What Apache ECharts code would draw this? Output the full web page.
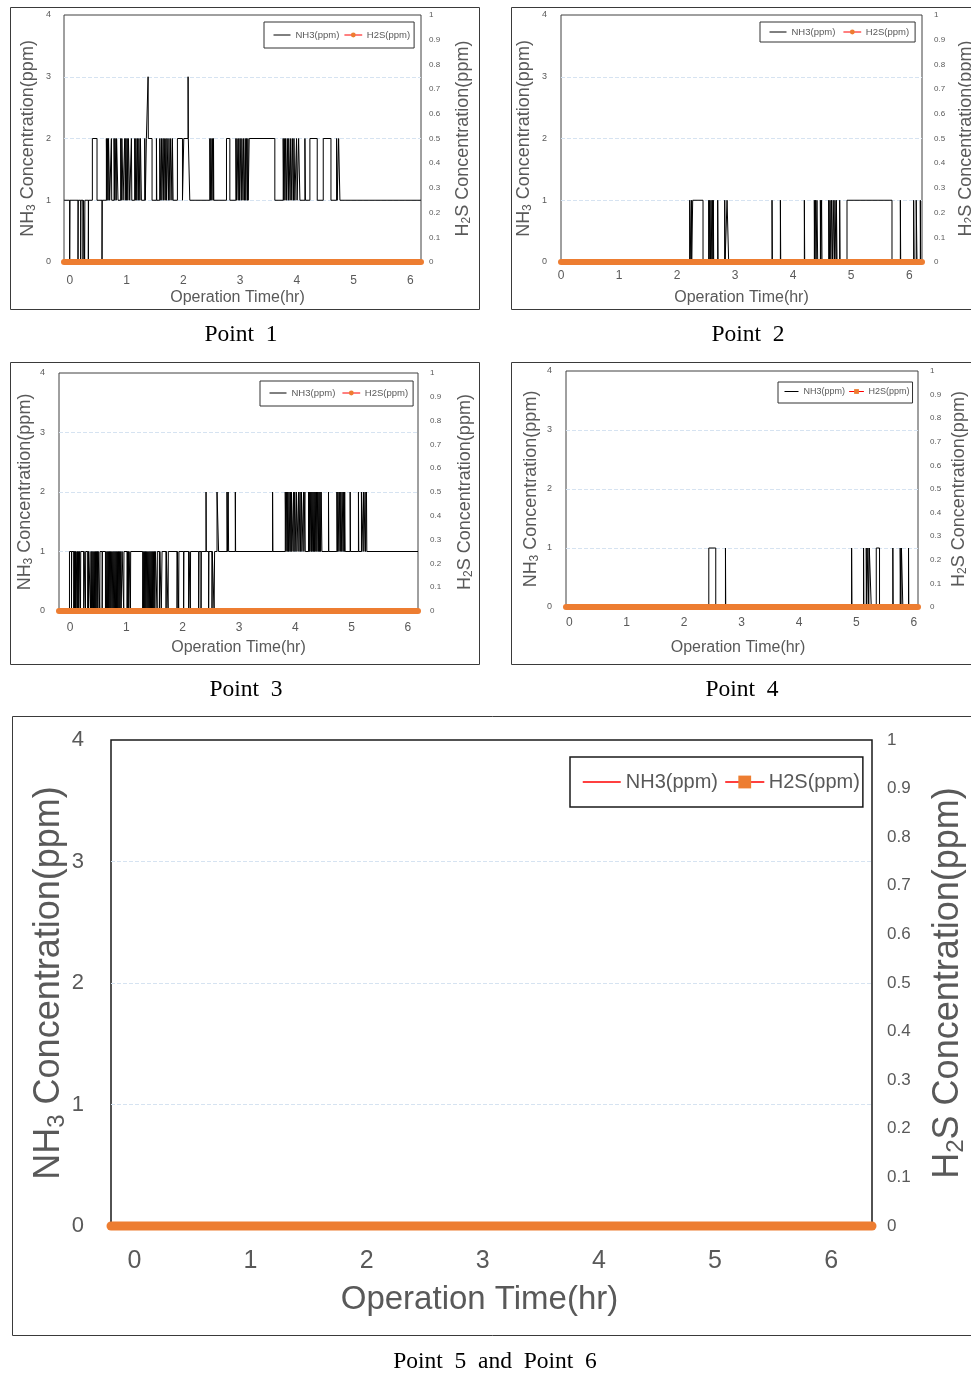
<!DOCTYPE html>
<html><head><meta charset="utf-8">
<script src="https://cdn.jsdelivr.net/npm/echarts@6/dist/echarts.min.js"></script>
<style>html,body{margin:0;padding:0;background:#fff}#c{width:971px;height:1374px}</style>
</head><body><div id="c"></div>
<script>
// ---------------- DATA ----------------
const xTicks = [0, 1, 2, 3, 4, 5, 6];
const captions = ['Point  1', 'Point  2', 'Point  3', 'Point  4', 'Point  5  and  Point  6'];
const seriesNames = ['NH3(ppm)', 'H2S(ppm)'];

// NH3 step readings [hour, ppm]
const p1NH3 = [[-0.105,1],[-0.005,0],[0,1],[0.142,0],[0.146,1],[0.189,0],[0.193,1],[0.23,0],[0.234,1],[0.259,0],[0.263,1],[0.324,0],[0.328,1],[0.395,2],[0.477,1],[0.565,0],[0.569,1],
[0.642,2],[0.652,1],[0.66,2],[0.672,1],[0.68,2],[0.7,1],[0.73,2],[0.736,1],[0.777,2],[0.79,1],[0.796,2],[0.815,1],[0.822,2],[0.847,1],[0.894,2],[0.905,1],[0.915,2],[0.936,1],
[0.965,2],[0.975,1],[0.985,2],[0.998,1],[1.008,2],[1.02,1],[1.03,2],[1.053,1],[1.083,2],[1.09,1],[1.141,2],[1.152,1],[1.162,2],[1.178,1],[1.188,2],[1.205,1],[1.215,2],[1.232,1],[1.242,2],[1.259,1],
[1.318,2],[1.328,1],[1.347,2],[1.377,3],[1.381,2],[1.447,1],[1.524,2],[1.53,1],[1.583,2],[1.59,1],[1.612,2],[1.62,1],[1.641,2],[1.652,1],[1.662,2],[1.678,1],[1.69,2],[1.7,1],[1.712,2],[1.735,1],
[1.745,2],[1.762,1],[1.775,2],[1.798,1],[1.806,2],[1.818,1],[1.894,2],[1.983,1],[2.006,2],[2.082,3],[2.086,2],[2.112,1],[2.465,2],[2.475,1],[2.485,2],[2.5,1],[2.51,2],[2.525,1],[2.53,2],[2.535,1],
[2.759,2],[2.818,1],[2.924,2],[2.935,1],[2.945,2],[2.965,1],[2.975,2],[2.99,1],[3,2],[3.02,1],[3.03,2],[3.05,1],[3.06,2],[3.078,1],[3.09,2],[3.1,1],[3.112,2],[3.13,1],[3.136,2],[3.141,1],
[3.159,2],[3.611,1],[3.758,2],[3.768,1],[3.778,2],[3.79,1],[3.8,2],[3.82,1],[3.83,2],[3.85,1],[3.856,2],[3.88,1],[3.89,2],[3.91,1],[3.92,2],[3.94,1],[3.948,2],[3.964,1],
[3.994,2],[4.003,1],[4.03,2],[4.053,1],[4.141,2],[4.15,1],[4.229,2],[4.358,1],[4.464,2],[4.6,1],[4.7,2],[4.71,1],[4.735,2],[4.758,1],[6.187,1]];

const p2NH3 = [[0,0],[2.218,1],[2.224,0],[2.247,1],[2.252,0],[2.269,1],[2.447,0],[2.545,1],[2.552,0],[2.562,1],[2.575,0],[2.585,1],[2.6,0],[2.608,1],[2.62,0],[2.625,1],[2.631,0],
[2.7,1],[2.706,0],[2.821,1],[2.827,0],[2.861,1],[2.889,0],[3.636,1],[3.642,0],[3.78,1],[3.786,0],[4.193,1],[4.199,0],[4.365,1],[4.372,0],[4.385,1],[4.395,0],[4.41,1],[4.423,0],
[4.469,1],[4.475,0],[4.49,1],[4.497,0],[4.612,1],[4.625,0],[4.635,1],[4.65,0],[4.66,1],[4.68,0],[4.69,1],[4.71,0],[4.72,1],[4.74,0],[4.745,1],[4.756,0],[4.802,1],[4.808,0],
[4.928,1],[5.703,0],[5.847,1],[5.853,0],[6.076,1],[6.085,0],[6.12,1],[6.134,0],[6.191,1],[6.197,0],[6.22,0]];

const p3NH3 = [[-0.197,0],[-0.011,1],[0.025,0],[0.029,1],[0.066,0],[0.072,1],[0.078,0],[0.083,1],[0.09,0],[0.096,1],[0.102,0],[0.108,1],[0.126,0],[0.132,1],[0.14,0],[0.148,1],[0.155,0],[0.167,1],
[0.185,0],[0.189,1],[0.243,0],[0.247,1],[0.273,0],[0.277,1],[0.314,0],[0.322,1],[0.328,0],[0.332,1],
[0.362,0],[0.372,1],[0.378,0],[0.39,1],[0.395,0],[0.41,1],[0.415,0],[0.43,1],[0.436,0],[0.45,1],[0.455,0],[0.47,1],[0.476,0],[0.49,1],[0.494,0],[0.499,1],
[0.527,0],[0.531,1],[0.57,0],[0.574,1],
[0.628,0],[0.64,1],[0.645,0],[0.66,1],[0.665,0],[0.68,1],[0.684,0],[0.7,1],[0.705,0],[0.72,1],[0.724,0],[0.74,1],[0.745,0],[0.76,1],[0.765,0],[0.78,1],[0.785,0],[0.8,1],[0.805,0],[0.82,1],
[0.826,0],[0.84,1],[0.845,0],[0.86,1],[0.866,0],[0.88,1],[0.885,0],[0.9,1],[0.906,0],[0.924,1],
[0.953,0],[0.957,1],[1.013,0],[1.018,1],[1.025,0],[1.035,1],[1.042,0],[1.048,1],[1.072,0],[1.076,1],
[1.29,0],[1.3,1],[1.305,0],[1.32,1],[1.325,0],[1.34,1],[1.345,0],[1.36,1],[1.366,0],[1.38,1],[1.386,0],[1.4,1],[1.406,0],[1.42,1],[1.426,0],[1.44,1],[1.446,0],[1.46,1],[1.466,0],[1.48,1],
[1.486,0],[1.5,1],[1.506,0],[1.515,1],[1.546,0],[1.55,1],[1.586,0],[1.595,1],[1.62,0],[1.634,1],[1.705,0],[1.709,1],[1.741,0],[1.745,1],[1.9,0],[1.905,1],[1.929,0],[1.933,1],
[2.017,0],[2.021,1],[2.106,0],[2.112,1],[2.136,0],[2.14,1],[2.284,0],[2.29,1],[2.326,0],[2.33,1],[2.415,2],[2.419,1],[2.461,0],[2.466,1],[2.521,0],[2.525,1],[2.558,0],[2.567,1],
[2.61,2],[2.638,1],[2.787,2],[2.795,1],[2.808,2],[2.816,1],[2.935,2],[2.94,1],[3.597,2],[3.602,1],
[3.822,2],[3.835,1],[3.842,2],[3.858,1],[3.865,2],[3.88,1],[3.888,2],[3.905,1],[3.912,2],[3.925,1],[3.932,2],[3.941,1],
[3.969,2],[3.975,1],[3.99,2],[3.997,1],[4.02,2],[4.029,1],[4.058,2],[4.064,1],[4.085,2],[4.09,1],[4.11,2],[4.118,1],[4.147,2],[4.153,1],[4.17,2],[4.177,1],
[4.235,2],[4.245,1],[4.255,2],[4.26,1],[4.275,2],[4.285,1],[4.295,2],[4.3,1],[4.315,2],[4.325,1],[4.335,2],[4.342,1],[4.355,2],[4.365,1],[4.378,2],[4.385,1],[4.398,2],[4.41,1],
[4.42,2],[4.43,1],[4.44,2],[4.45,1],[4.46,2],[4.473,1],[4.59,2],[4.596,1],
[4.739,2],[4.75,1],[4.758,2],[4.775,1],[4.782,2],[4.8,1],[4.808,2],[4.825,1],[4.832,2],[4.85,1],[4.86,2],[4.872,1],[4.878,2],[4.886,1],[4.975,2],[4.981,1],
[5.122,2],[5.128,1],[5.175,2],[5.183,1],[5.211,2],[5.218,1],[5.24,2],[5.247,1],[5.265,2],[5.271,1],[6.18,1]];

const p4NH3 = [[-0.057,0],[2.43,1],[2.551,0],[2.72,1],[2.725,0],[4.917,1],[4.922,0],[5.125,1],[5.13,0],[5.172,1],[5.18,0],[5.2,1],[5.215,0],[5.225,1],[5.259,0],
[5.346,1],[5.403,0],[5.635,1],[5.64,0],[5.763,1],[5.775,0],[5.785,1],[5.809,0],[5.908,1],[5.913,0],[6.073,0]];

const p56NH3 = [[-0.202,0],[6.352,0]];

// H2S readings [hour, ppm] (flat zero over the whole run)
const p1H2S = [[-0.105,0],[6.187,0]];
const p2H2S = [[0,0],[6.22,0]];
const p3H2S = [[-0.197,0],[6.18,0]];
const p4H2S = [[-0.057,0],[6.073,0]];
const p56H2S = [[-0.202,0],[6.352,0]];

const panelData = [
  {nh3: p1NH3, h2s: p1H2S},
  {nh3: p2NH3, h2s: p2H2S},
  {nh3: p3NH3, h2s: p3H2S},
  {nh3: p4NH3, h2s: p4H2S},
  {nh3: p56NH3, h2s: p56H2S}
];

// ---------------- LAYOUT / STYLE ----------------
const FONT = "'Liberation Sans', Arial, sans-serif";
const SERIF = "'Liberation Serif', 'Times New Roman', serif";
const GRAY = '#595959';
const ORANGE = '#ED7D31';
const small = {xFont:12, xTitle:16, yFont:9, rFont:8, yTitle:18, ySub:12, border:'#404040', borderW:1, h2sWidth:6, nh3Color:'#000', legendFont:9.5, lgW:17, lgH:6, lgGap:8, xNameShift:0, moveOverlap:true};
const layouts = [
  Object.assign({}, small, {grid:[64,15,357,247], xMin:-0.105, xMax:6.187, xMargin:13, xNameGap:28, xNameShift:10, yMargin:13, rMargin:8, yNameGap:26, rNameGap:32, lg:[264,22], lgPad:[8,4,8,9], lgGap:5, sym:'circle'}),
  Object.assign({}, small, {grid:[561,15,361,247], xMin:0, xMax:6.22, xMargin:8, xNameGap:28, yMargin:14, rMargin:12, yNameGap:27, rNameGap:34, lg:[760,22], lgPad:[5,6,5,9], sym:'circle'}),
  Object.assign({}, small, {grid:[59,373,359,238], xMin:-0.197, xMax:6.18, xMargin:11, xNameGap:29, yMargin:14, rMargin:12, yNameGap:24, rNameGap:37, lg:[260,381], lgPad:[7,5,8,9], lgGap:7, sym:'circle'}),
  Object.assign({}, small, {grid:[566,371,352,236], xMin:-0.057, xMax:6.073, xMargin:10, xNameGap:33, xNameShift:8, yMargin:14, rMargin:12, yNameGap:25, rNameGap:31, lg:[778,382], lgPad:[5,3,7,6], lgW:14, lgGap:4, legendFont:9, sym:'rect'}),
  {grid:[111,740,761,486], xMin:-0.202, xMax:6.352, xFont:25, xMargin:23, xTitle:33, xNameGap:57, xNameShift:24, yFont:22, yMargin:27, rFont:17, rMargin:15, yTitle:36, ySub:24, yNameGap:42, rNameGap:56, moveOverlap:false,
   lg:[570,757], lgPad:[15,3,15,12], lgW:38, lgH:16, lgGap:7, legendFont:20, border:'#1a1a1a', borderW:1.5, h2sWidth:9, nh3Color:'#FF0000', sym:'rect'}
];
const frames = [[10.5,7.5,469,302],[511.5,7.5,470,302],[10.5,362.5,469,302],[511.5,362.5,470,302],[12.5,716.5,970,619]];
const capPos = [[241,335],[748,335],[246,690],[742,690],[495,1362]];

const grid = [], xAxis = [], yAxis = [], series = [], legend = [], graphic = [];
layouts.forEach((L, i) => {
  grid.push({left:L.grid[0], top:L.grid[1], width:L.grid[2], height:L.grid[3], show:true, containLabel:false, outerBoundsMode:'none',
    borderColor:L.border, borderWidth:L.borderW, backgroundColor:'transparent'});
  xAxis.push({type:'value', gridIndex:i, min:L.xMin, max:L.xMax,
    axisLine:{show:false}, axisTick:{show:false}, splitLine:{show:false},
    axisLabel:{customValues:xTicks, fontSize:L.xFont, color:GRAY, margin:L.xMargin, fontFamily:FONT},
    name:'Operation Time(hr)', nameLocation:'middle', nameGap:L.xNameGap,
    nameTextStyle:{fontSize:L.xTitle, color:GRAY, fontFamily:FONT, padding:[0, L.xNameShift, 0, 0]}});
  const richName = () => ({
    t:{fontSize:L.yTitle, color:GRAY, fontFamily:FONT},
    s:{fontSize:L.ySub, color:GRAY, fontFamily:FONT, padding:[Math.round(L.yTitle*0.45),0,0,0]}
  });
  yAxis.push({type:'value', gridIndex:i, position:'left', min:0, max:4, interval:1,
    axisLine:{show:false}, axisTick:{show:false},
    splitLine:{show:true, showMinLine:false, showMaxLine:false, lineStyle:{color:'#d6e3f1', type:'dashed', width:1}},
    axisLabel:{fontSize:L.yFont, color:GRAY, margin:L.yMargin, fontFamily:FONT},
    name:'{t|NH}{s|3}{t| Concentration(ppm)}', nameLocation:'middle', nameRotate:90, nameGap:L.yNameGap, nameMoveOverlap:L.moveOverlap,
    nameTextStyle:{rich:richName()}});
  yAxis.push({type:'value', gridIndex:i, position:'right', min:0, max:1, interval:0.1,
    axisLine:{show:false}, axisTick:{show:false}, splitLine:{show:false},
    axisLabel:{fontSize:L.rFont, color:GRAY, margin:L.rMargin, fontFamily:FONT},
    name:'{t|H}{s|2}{t|S Concentration(ppm)}', nameLocation:'middle', nameRotate:90, nameGap:L.rNameGap,
    nameTextStyle:{rich:richName()}});
  const d = panelData[i];
  series.push({type:'line', name:seriesNames[0]+'|'+i, xAxisIndex:i, yAxisIndex:2*i, data:d.nh3, step:'end',
    symbol:'none', lineStyle:{color:L.nh3Color, width:1}, itemStyle:{color:L.nh3Color}, animation:false, silent:true});
  series.push({type:'line', name:seriesNames[1]+'|'+i, xAxisIndex:i, yAxisIndex:2*i+1, data:d.h2s,
    symbol:L.sym, showSymbol:false, clip:false, lineStyle:{color:ORANGE, width:L.h2sWidth, cap:'round'}, itemStyle:{color:ORANGE}, animation:false, silent:true});
  legend.push({left:L.lg[0], top:L.lg[1], orient:'horizontal', selectedMode:false, padding:L.lgPad,
    itemWidth:L.lgW, itemHeight:L.lgH, itemGap:L.lgGap, borderColor:i===4?'#1a1a1a':'#333', borderWidth:i===4?1.5:1,
    textStyle:{fontSize:L.legendFont, color:GRAY, fontFamily:FONT},
    formatter: n => n.split('|')[0],
    data:[
      {name:seriesNames[0]+'|'+i, itemStyle:{opacity:0, borderWidth:0}, lineStyle:{color:i===4?'#FF0000':'#000', width:i===4?1.5:1}},
      {name:seriesNames[1]+'|'+i, itemStyle:{color:ORANGE, borderWidth:0}, lineStyle:{color:'#FF0000', width:i===4?1.5:1}}
    ]});
  const f = frames[i];
  graphic.push({type:'rect', silent:true, shape:{x:f[0], y:f[1], width:f[2], height:f[3]}, style:{fill:'none', stroke:'#3a3a3a', lineWidth:1}});
  graphic.push({type:'text', silent:true, x:capPos[i][0], y:capPos[i][1], style:{text:captions[i], font:"23.5px "+SERIF, fill:'#000', textAlign:'center', textVerticalAlign:'middle', align:'center', verticalAlign:'middle'}});
});

const chart = echarts.init(document.getElementById('c'), null, {renderer:'canvas', width:971, height:1374});
chart.setOption({animation:false, backgroundColor:'#fff', grid, xAxis, yAxis, series, legend, graphic});
</script>
</body></html>
